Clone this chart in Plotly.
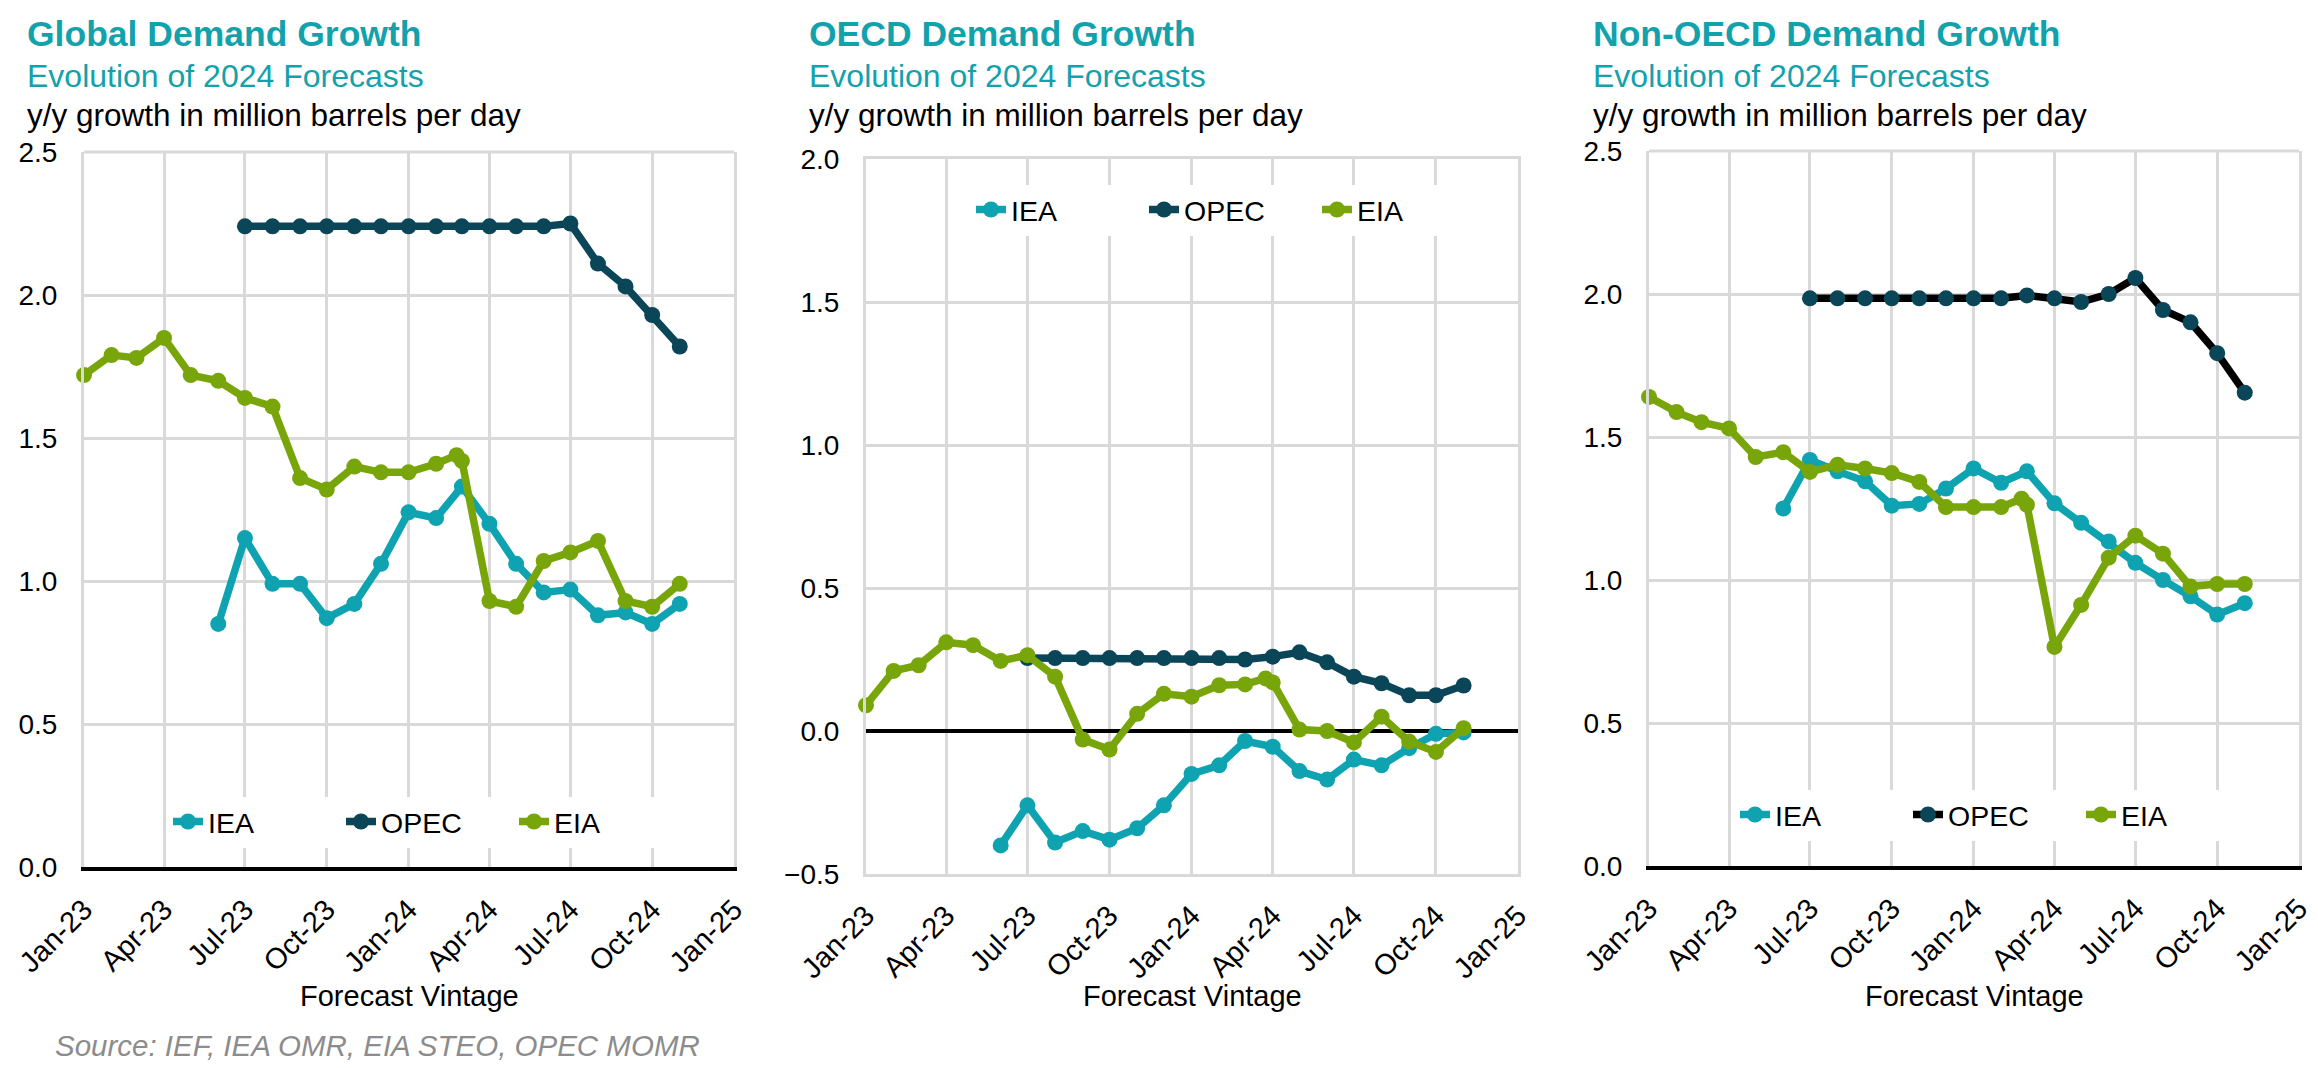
import plotly.graph_objects as go

# Forecast vintages (monthly)
vintages = [
    "2023-01-01", "2023-02-01", "2023-03-01", "2023-04-01", "2023-05-01", "2023-06-01",
    "2023-07-01", "2023-08-01", "2023-09-01", "2023-10-01", "2023-11-01", "2023-12-01",
    "2024-01-01", "2024-02-01", "2024-03-01", "2024-04-01", "2024-05-01", "2024-06-01",
    "2024-07-01", "2024-08-01", "2024-09-01", "2024-10-01", "2024-11-01",
]
iea_x = vintages[5:]    # IEA from Jun-23
opec_x = vintages[6:]   # OPEC from Jul-23
# EIA has one extra mid-month release in each panel
eia_x_global = vintages[:14] + ["2024-02-24"] + vintages[14:]
eia_x_oecd = vintages[:15] + ["2024-03-24"] + vintages[15:]
eia_x_non = vintages[:14] + ["2024-02-24"] + vintages[14:]

# Global
iea_global = [0.85, 1.15, 0.99, 0.99, 0.87, 0.92, 1.06, 1.24, 1.22, 1.33, 1.20, 1.06,
              0.96, 0.97, 0.88, 0.89, 0.85, 0.92]
opec_global = [2.24, 2.24, 2.24, 2.24, 2.24, 2.24, 2.24, 2.24, 2.24, 2.24, 2.24, 2.24,
               2.25, 2.11, 2.03, 1.93, 1.82]
eia_global = [1.72, 1.79, 1.78, 1.85, 1.72, 1.70, 1.64, 1.61, 1.36, 1.32, 1.40, 1.38,
              1.38, 1.41, 1.44, 1.42, 0.93, 0.91, 1.07, 1.10, 1.14, 0.93, 0.91, 0.99]

# OECD
iea_oecd = [-0.40, -0.26, -0.39, -0.35, -0.38, -0.34, -0.26, -0.15, -0.12, -0.035, -0.055,
            -0.14, -0.17, -0.10, -0.12, -0.06, -0.01, -0.005]
opec_oecd = [0.255, 0.255, 0.255, 0.255, 0.255, 0.255, 0.255, 0.255, 0.25, 0.26, 0.275,
             0.24, 0.19, 0.167, 0.125, 0.125, 0.159]
eia_oecd = [0.09, 0.21, 0.23, 0.31, 0.30, 0.245, 0.265, 0.19, -0.03, -0.065, 0.06, 0.13,
            0.12, 0.16, 0.163, 0.184, 0.17, 0.005, 0.0, -0.04, 0.05, -0.037, -0.073, 0.01]

# Non-OECD
iea_non = [1.25, 1.42, 1.38, 1.345, 1.26, 1.266, 1.32, 1.39, 1.34, 1.38, 1.268, 1.20,
           1.135, 1.06, 1.00, 0.943, 0.879, 0.919]
opec_non = [1.985, 1.985, 1.985, 1.985, 1.985, 1.985, 1.985, 1.985, 1.995, 1.985, 1.972,
            2.0, 2.056, 1.944, 1.901, 1.793, 1.655]
eia_non = [1.64, 1.587, 1.552, 1.53, 1.43, 1.447, 1.378, 1.403, 1.39, 1.374, 1.343, 1.255,
           1.255, 1.255, 1.284, 1.263, 0.766, 0.913, 1.078, 1.155, 1.092, 0.977, 0.986, 0.986]

titles = ["Global Demand Growth", "OECD Demand Growth", "Non-OECD Demand Growth"]
subtitle = "Evolution of 2024 Forecasts"
units = "y/y growth in million barrels per day"
x_title = "Forecast Vintage"
source = "Source: IEF, IEA OMR, EIA STEO, OPEC MOMR"

TEAL = "#0FA3B1"
NAVY = "#0B4658"
GREEN = "#78A50A"
TITLE_C = "#12A2AC"
GRID = "#D9D9D9"
FONT = "Liberation Sans, Arial, sans-serif"

W, H = 2318, 1068

# panel boxes in pixels: (left, right, top, bottom)
panels = [(76, 726, 144, 859), (858, 1510, 151, 866), (1641, 2291, 143, 858)]
yranges = [[0, 2.5], [-0.5, 2.0], [0, 2.5]]
legend_pos = [(160, 814), (963, 202), (1727, 807)]   # left edge, vertical centre
title_left = [17, 799, 1583]

fig = go.Figure()

series = [
    (iea_global, opec_global, eia_global, eia_x_global, NAVY),
    (iea_oecd, opec_oecd, eia_oecd, eia_x_oecd, NAVY),
    (iea_non, opec_non, eia_non, eia_x_non, "#000000"),
]

for i, (iea, opec, eia, eia_x, opec_line) in enumerate(series):
    sfx = "" if i == 0 else str(i + 1)
    leg = "legend" + sfx
    common = dict(mode="lines+markers", xaxis="x" + sfx, yaxis="y" + sfx, legend=leg,
                  cliponaxis=False)
    fig.add_trace(go.Scatter(x=iea_x, y=iea, name="IEA",
                             line=dict(color=TEAL, width=7.5),
                             marker=dict(color=TEAL, size=16), **common))
    fig.add_trace(go.Scatter(x=opec_x, y=opec, name="OPEC",
                             line=dict(color=opec_line, width=7.5),
                             marker=dict(color=NAVY, size=16), **common))
    fig.add_trace(go.Scatter(x=eia_x, y=eia, name="EIA",
                             line=dict(color=GREEN, width=7.5),
                             marker=dict(color=GREEN, size=16), **common))

layout = dict(
    width=W, height=H,
    margin=dict(l=0, r=0, t=0, b=0, autoexpand=False),
    paper_bgcolor="white", plot_bgcolor="white",
    font=dict(family=FONT, size=28, color="#000000"),
    showlegend=True,
)

annotations = []
shapes = []
for i, (l, r, t, b) in enumerate(panels):
    sfx = "" if i == 0 else str(i + 1)
    bottom_black = yranges[i][0] == 0
    layout["xaxis" + sfx] = dict(
        type="date", domain=[l / W, r / W], anchor="y" + sfx,
        range=["2023-01-01", "2025-01-01"], dtick="M3", tick0="2023-01-01",
        tickformat="%b-%y", tickangle=-45, ticks="", ticklabelstandoff=10,
        showgrid=True, gridcolor=GRID, gridwidth=3, automargin=False,
        showline=True, linecolor="#000000" if bottom_black else GRID,
        linewidth=4 if bottom_black else 3, mirror=not bottom_black,
        tickfont=dict(size=29), zeroline=False,
    )
    layout["yaxis" + sfx] = dict(
        domain=[1 - b / H, 1 - t / H], anchor="x" + sfx,
        range=yranges[i], dtick=0.5, tickformat=".1f", ticks="",
        ticklabelstandoff=18, showgrid=True, gridcolor=GRID, gridwidth=3,
        showline=True, linecolor=GRID, linewidth=3, mirror=True, automargin=False,
        zeroline=not bottom_black, zerolinecolor="#000000", zerolinewidth=4,
        tickfont=dict(size=28),
    )
    if bottom_black:
        # top frame edge (the bottom edge is the black axis line)
        shapes.append(dict(type="line", xref="x" + sfx + " domain", yref="y" + sfx + " domain",
                           x0=0, x1=1, y0=1, y1=1, layer="below",
                           line=dict(color=GRID, width=3)))
    lx, ly = legend_pos[i]
    layout["legend" + sfx] = dict(
        orientation="h", x=lx / W, y=1 - ly / H, xanchor="left", yanchor="middle",
        bgcolor="white", font=dict(size=28.5), itemwidth=30, traceorder="normal",
        entrywidth=128, entrywidthmode="pixels",
    )
    tl = title_left[i]
    annotations += [
        dict(text="<b>" + titles[i] + "</b>", x=tl / W, y=1 - 26 / H,
             font=dict(size=35.5, color=TITLE_C)),
        dict(text=subtitle, x=tl / W, y=1 - 68 / H, font=dict(size=32, color=TITLE_C)),
        dict(text=units, x=tl / W, y=1 - 107 / H, font=dict(size=31.5, color="#000000")),
        dict(text=x_title, x=(l + r) / 2 / W, y=1 - 988 / H, xanchor="center",
             font=dict(size=29, color="#000000")),
    ]

annotations.append(dict(text="<i>" + source + "</i>", x=45 / W, y=1 - 1037 / H,
                        font=dict(size=29.5, color="#8C8C8C")))
for a in annotations:
    a.setdefault("xanchor", "left")
    a.update(xref="paper", yref="paper", yanchor="middle", showarrow=False)
layout["annotations"] = annotations
layout["shapes"] = shapes

fig.update_layout(**layout)
fig.write_html("out.html")
